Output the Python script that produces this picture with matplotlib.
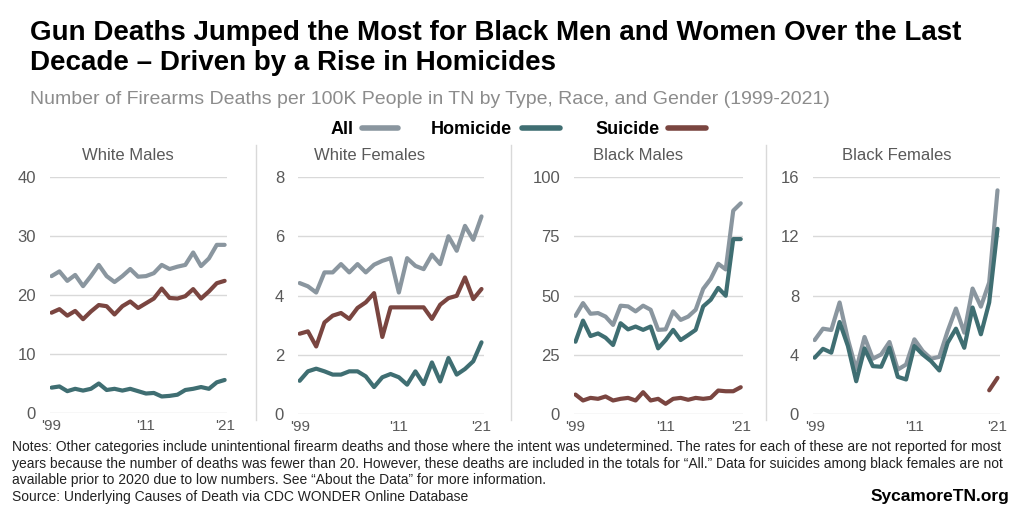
import matplotlib
matplotlib.use("Agg")
import matplotlib.pyplot as plt
from matplotlib.lines import Line2D
import numpy as np

plt.rcParams['font.family'] = ['Liberation Sans', 'DejaVu Sans']

years = list(range(1999, 2022))

panels = ["White Males", "White Females", "Black Males", "Black Females"]

wm_all = [23.2, 24.0, 22.4, 23.4, 21.5, 23.2, 25.1, 23.2, 22.2, 23.2, 24.4, 23.1, 23.2, 23.7, 25.1, 24.4, 24.8, 25.1, 27.2, 24.9, 26.2, 28.5, 28.5]
wm_hom = [4.3, 4.5, 3.7, 4.1, 3.8, 4.1, 5.0, 3.9, 4.1, 3.8, 4.1, 3.7, 3.3, 3.4, 2.8, 2.9, 3.1, 3.9, 4.1, 4.4, 4.1, 5.2, 5.6]
wm_sui = [17.0, 17.6, 16.5, 17.3, 15.9, 17.2, 18.3, 18.1, 16.7, 18.1, 18.9, 17.8, 18.6, 19.4, 21.1, 19.5, 19.4, 19.8, 21.0, 19.4, 20.6, 22.0, 22.4]

wf_all = [4.42, 4.31, 4.1, 4.78, 4.78, 5.06, 4.78, 5.06, 4.78, 5.04, 5.17, 5.26, 4.1, 5.26, 5.0, 4.89, 5.38, 5.06, 6.0, 5.51, 6.35, 5.88, 6.67]
wf_hom = [1.12, 1.44, 1.53, 1.44, 1.33, 1.33, 1.44, 1.44, 1.27, 0.91, 1.24, 1.35, 1.24, 0.99, 1.44, 1.01, 1.74, 1.1, 1.89, 1.33, 1.52, 1.78, 2.42]
wf_sui = [2.71, 2.79, 2.28, 3.09, 3.32, 3.41, 3.21, 3.58, 3.77, 4.08, 2.6, 3.6, 3.6, 3.6, 3.6, 3.6, 3.21, 3.69, 3.91, 3.99, 4.61, 3.88, 4.22]

bm_all = [41.4, 46.8, 42.3, 42.6, 41.1, 37.6, 45.7, 45.4, 43.3, 45.7, 44.0, 35.5, 35.7, 43.3, 39.7, 41.1, 44.0, 52.8, 57.0, 63.4, 61.0, 85.8, 88.9]
bm_hom = [30.5, 39.4, 32.9, 34.0, 32.2, 29.1, 38.3, 35.7, 36.9, 35.5, 36.9, 27.7, 31.2, 35.5, 31.2, 33.3, 35.5, 45.4, 48.2, 53.2, 49.9, 73.8, 73.8]
bm_sui = [8.2, 5.7, 6.8, 6.4, 7.4, 5.7, 6.4, 6.8, 5.7, 9.2, 5.7, 6.4, 4.3, 6.4, 6.8, 6.0, 6.8, 6.4, 6.8, 9.9, 9.6, 9.6, 11.3]

bf_all = [4.99, 5.76, 5.67, 7.53, 5.04, 3.0, 5.2, 3.73, 4.02, 4.86, 3.0, 3.34, 5.04, 4.25, 3.73, 3.86, 5.6, 7.12, 5.49, 8.47, 7.25, 8.88, 15.1]
bf_hom = [3.8, 4.4, 4.14, 6.21, 4.59, 2.21, 4.43, 3.23, 3.19, 4.47, 2.51, 2.33, 4.59, 4.02, 3.57, 2.94, 4.81, 5.76, 4.47, 7.19, 5.38, 7.53, 12.5]
bf_sui = [None] * 21 + [1.6, 2.44]

all_series = [wm_all, wf_all, bm_all, bf_all]
hom_series = [wm_hom, wf_hom, bm_hom, bf_hom]
sui_series = [wm_sui, wf_sui, bm_sui, bf_sui]

y_ticks = [[0, 10, 20, 30, 40], [0, 2, 4, 6, 8], [0, 25, 50, 75, 100], [0, 4, 8, 12, 16]]
x_ticks = [1999, 2011, 2021]
x_ticklabels = ["'99", "'11", "'21"]

C_ALL = "#8A969F"
C_HOM = "#3F6E72"
C_SUI = "#7A4540"
C_TXT = "#595959"
C_GRID = "#D9D9D9"

W, H = 1024, 512
fig = plt.figure(figsize=(W / 100, H / 100), dpi=100)

def fx(px):
    return px / W

def fy(py):
    return 1 - py / H

# axes pixel boxes: left, right, top, bottom
boxes = [(50, 227, 177, 413), (298, 484, 177, 414), (574, 743, 177, 414), (813, 1000, 177, 414)]
title_x = [128, 370, 638, 897]

for i, (l, r, t, b) in enumerate(boxes):
    ax = fig.add_axes([fx(l), fy(b), fx(r - l), (b - t) / H])
    ys = y_ticks[i]
    ax.set_ylim(ys[0], ys[-1])
    ax.set_xlim(1998.8, 2021.3)
    for v in ys:
        ax.axhline(v, color=C_GRID, lw=1.0, zorder=0)
    ax.plot(years, all_series[i], color=C_ALL, lw=3.0, solid_capstyle='round', solid_joinstyle='round', zorder=2)
    ax.plot(years, hom_series[i], color=C_HOM, lw=3.0, solid_capstyle='round', solid_joinstyle='round', zorder=3)
    sui = np.array([np.nan if v is None else v for v in sui_series[i]], dtype=float)
    ax.plot(years, sui, color=C_SUI, lw=3.0, solid_capstyle='round', solid_joinstyle='round', zorder=3)
    ax.set_yticks(ys)
    ax.set_yticklabels([str(v) for v in ys], fontsize=12, color=C_TXT)
    ax.set_xticks(x_ticks)
    ax.set_xticklabels(x_ticklabels, fontsize=11, color=C_TXT)
    ax.tick_params(length=0, pad=4)
    ax.tick_params(axis='y', pad=10)
    for s in ax.spines.values():
        s.set_visible(False)
    ax.patch.set_alpha(0)
    fig.text(fx(title_x[i]), fy(155), panels[i], ha='center', va='center', fontsize=12, color=C_TXT)

# separators
for xs in [256, 511, 766]:
    fig.add_artist(Line2D([fx(xs), fx(xs)], [fy(145), fy(420)], color=C_GRID, lw=1.0))

# title
fig.text(fx(30), fy(33), "Gun Deaths Jumped the Most for Black Men and Women Over the Last",
         fontsize=20, fontweight='bold', color='black', va='center', ha='left')
fig.text(fx(30), fy(63), "Decade \u2013 Driven by a Rise in Homicides",
         fontsize=20, fontweight='bold', color='black', va='center', ha='left')
fig.text(fx(30), fy(100), "Number of Firearms Deaths per 100K People in TN by Type, Race, and Gender (1999-2021)",
         fontsize=14, color="#8C8C8C", va='center', ha='left')

# legend
leg_items = [("All", C_ALL, 331, 362, 398), ("Homicide", C_HOM, 431, 522, 560), ("Suicide", C_SUI, 595, 668, 706)]
for label, col, tx, l0, l1 in leg_items:
    fig.text(fx(tx), fy(129), label, fontsize=13, fontweight='bold', va='center', ha='left')
    fig.add_artist(Line2D([fx(l0), fx(l1)], [fy(128), fy(128)], color=col, lw=4, solid_capstyle='round'))

notes_lines = [
    "Notes: Other categories include unintentional firearm deaths and those where the intent was undetermined. The rates for each of these are not reported for most",
    "years because the number of deaths was fewer than 20. However, these deaths are included in the totals for \u201cAll.\u201d Data for suicides among black females are not",
    "available prior to 2020 due to low numbers. See \u201cAbout the Data\u201d for more information.",
    "Source: Underlying Causes of Death via CDC WONDER Online Database",
]
for k, line in enumerate(notes_lines):
    fig.text(fx(12), fy(447 + 16.7 * k), line, fontsize=10, color='#222222', va='center', ha='left')
fig.text(fx(1009), fy(497), "SycamoreTN.org", fontsize=12.5, fontweight='bold', va='center', ha='right')

fig.savefig("out.png", dpi=100)
